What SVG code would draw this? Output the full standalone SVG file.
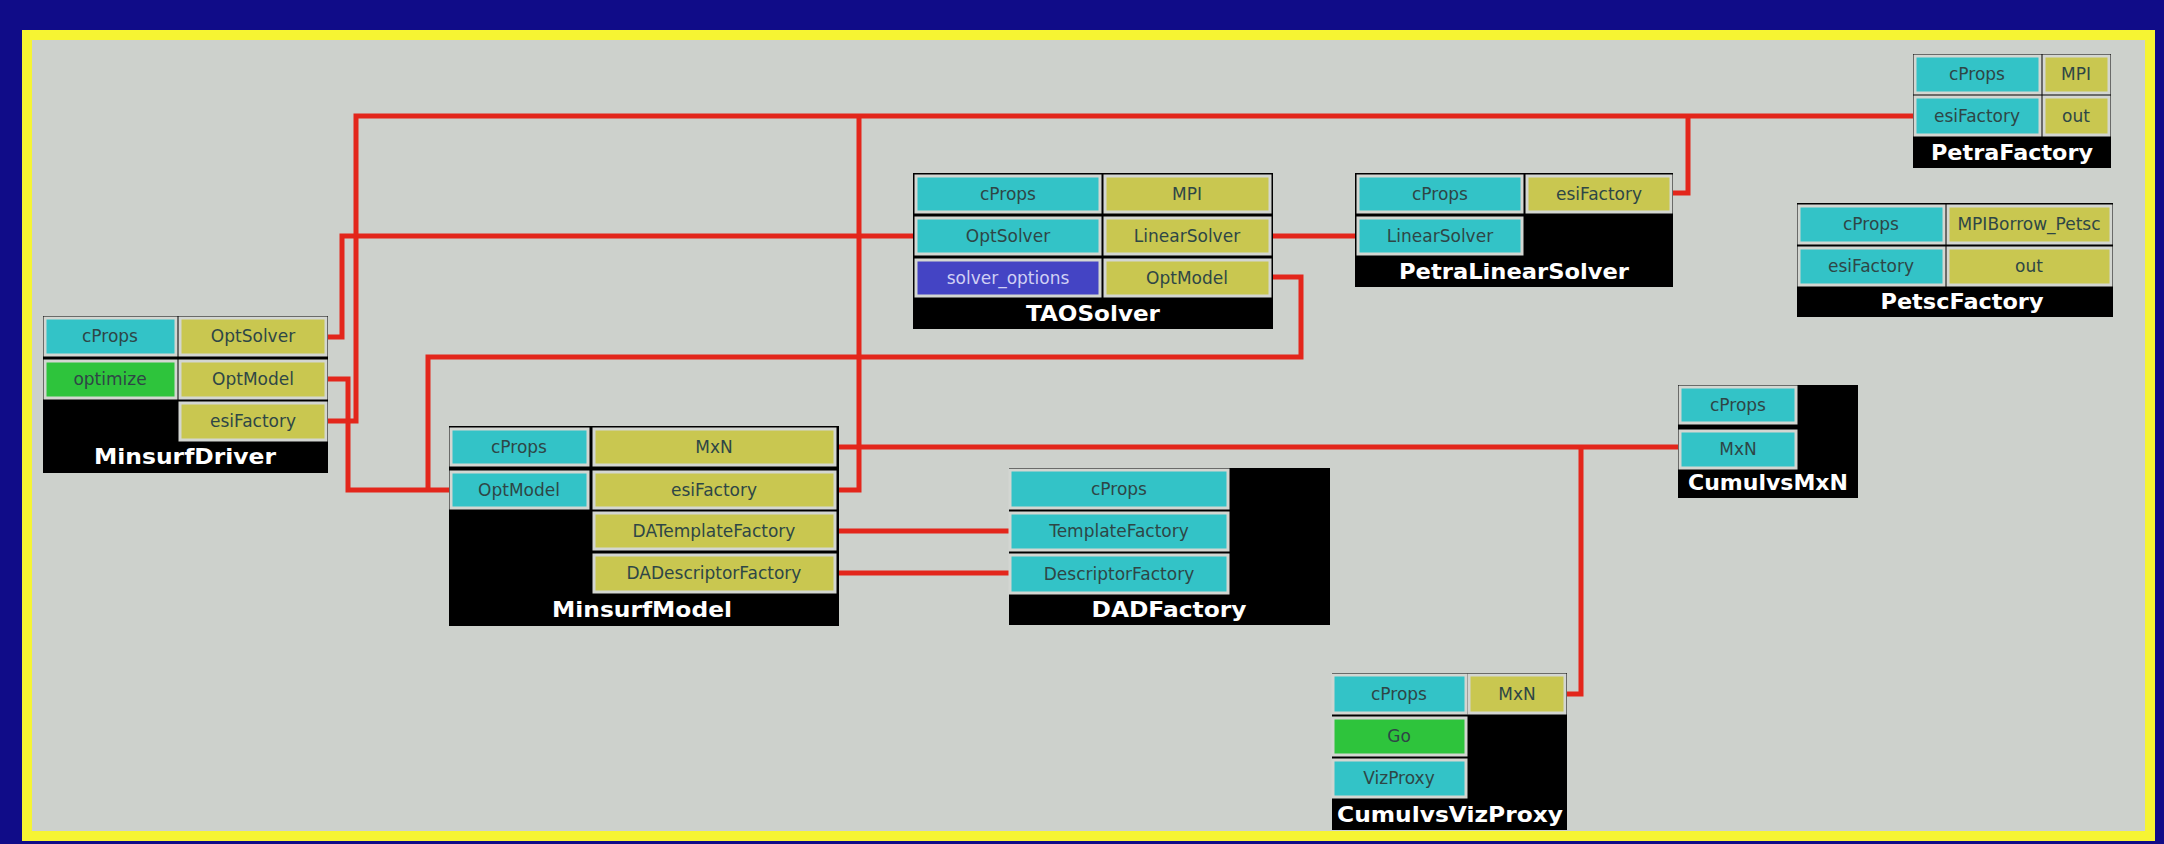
<svg xmlns="http://www.w3.org/2000/svg" width="2164" height="844" viewBox="0 0 2164 844">
<style>
.bg{fill:#100c88}
.fr{fill:#f6f433}
.cv{fill:#cdd1cc}
.body{fill:#000}
.cell{stroke:#d3d6d1;stroke-width:3}
.c{fill:#33c3c7}
.y{fill:#c9c750}
.g{fill:#2ec43c}
.b{fill:#4444c4}
.t{font-family:"DejaVu Sans","Liberation Sans",sans-serif;font-size:17px;fill:#2e4646;text-anchor:middle}
.tw{fill:#d0d0f4}
.h{font-family:"DejaVu Sans","Liberation Sans",sans-serif;font-size:21px;font-weight:bold;fill:#fff;text-anchor:middle}
.w{fill:none;stroke:#e3261b;stroke-width:5;stroke-linejoin:miter}
</style>
<rect class="bg" x="0" y="0" width="2164" height="844"/>
<rect class="fr" x="22" y="30" width="2133" height="811"/>
<rect class="cv" x="32" y="40" width="2113" height="791"/>

<g id="connectors">
<path class="w" d="M327,337 H342 V236 H913"/>
<path class="w" d="M327,379 H348 V490 H449"/>
<path class="w" d="M1273,277 H1301 V357 H428 V490"/>
<path class="w" d="M327,421 H356 V116 H1913"/>
<path class="w" d="M838,490 H859 V116"/>
<path class="w" d="M1673,193 H1688 V116"/>
<path class="w" d="M1273,236 H1355"/>
<path class="w" d="M838,447 H1678"/>
<path class="w" d="M1581,447 V694 H1567"/>
<path class="w" d="M838,531 H1009"/>
<path class="w" d="M838,573 H1009"/>
</g>

<g id="MinsurfDriver">
<rect class="body" x="43" y="316" width="285" height="157"/>
<rect class="cell c" x="45" y="318" width="131" height="37"/>
<rect class="cell y" x="180" y="318" width="146" height="37"/>
<rect class="cell g" x="45" y="361" width="131" height="37"/>
<rect class="cell y" x="180" y="361" width="146" height="37"/>
<rect class="cell y" x="180" y="403" width="146" height="37"/>
<text class="t" x="110" y="342">cProps</text>
<text class="t" x="253" y="342">OptSolver</text>
<text class="t" x="110" y="385">optimize</text>
<text class="t" x="253" y="385">OptModel</text>
<text class="t" x="253" y="427">esiFactory</text>
<text class="h" x="185" y="464" textLength="182" lengthAdjust="spacingAndGlyphs">MinsurfDriver</text>
</g>

<g id="MinsurfModel">
<rect class="body" x="449" y="426" width="390" height="200"/>
<rect class="cell c" x="451" y="429" width="137" height="36"/>
<rect class="cell y" x="594" y="429" width="241" height="36"/>
<rect class="cell c" x="451" y="472" width="137" height="36"/>
<rect class="cell y" x="594" y="472" width="241" height="36"/>
<rect class="cell y" x="594" y="513" width="241" height="36"/>
<rect class="cell y" x="594" y="555" width="241" height="37"/>
<text class="t" x="519" y="453">cProps</text>
<text class="t" x="714" y="453">MxN</text>
<text class="t" x="519" y="496">OptModel</text>
<text class="t" x="714" y="496">esiFactory</text>
<text class="t" x="714" y="537">DATemplateFactory</text>
<text class="t" x="714" y="579">DADescriptorFactory</text>
<text class="h" x="642" y="617" textLength="180" lengthAdjust="spacingAndGlyphs">MinsurfModel</text>
</g>

<g id="TAOSolver">
<rect class="body" x="913" y="173" width="360" height="156"/>
<rect class="cell c" x="916" y="176" width="184" height="36"/>
<rect class="cell y" x="1105" y="176" width="165" height="36"/>
<rect class="cell c" x="916" y="218" width="184" height="36"/>
<rect class="cell y" x="1105" y="218" width="165" height="36"/>
<rect class="cell b" x="916" y="260" width="184" height="36"/>
<rect class="cell y" x="1105" y="260" width="165" height="36"/>
<text class="t" x="1008" y="200">cProps</text>
<text class="t" x="1187" y="200">MPI</text>
<text class="t" x="1008" y="242">OptSolver</text>
<text class="t" x="1187" y="242">LinearSolver</text>
<text class="t tw" x="1008" y="284">solver_options</text>
<text class="t" x="1187" y="284">OptModel</text>
<text class="h" x="1093" y="321" textLength="134" lengthAdjust="spacingAndGlyphs">TAOSolver</text>
</g>

<g id="PetraLinearSolver">
<rect class="body" x="1355" y="173" width="318" height="114"/>
<rect class="cell c" x="1358" y="176" width="164" height="36"/>
<rect class="cell y" x="1527" y="176" width="144" height="36"/>
<rect class="cell c" x="1358" y="218" width="164" height="36"/>
<text class="t" x="1440" y="200">cProps</text>
<text class="t" x="1599" y="200">esiFactory</text>
<text class="t" x="1440" y="242">LinearSolver</text>
<text class="h" x="1514" y="279" textLength="230" lengthAdjust="spacingAndGlyphs">PetraLinearSolver</text>
</g>

<g id="PetraFactory">
<rect class="body" x="1913" y="54" width="198" height="114"/>
<rect class="cell c" x="1915" y="56" width="125" height="37"/>
<rect class="cell y" x="2044" y="56" width="65" height="37"/>
<rect class="cell c" x="1915" y="97" width="125" height="38"/>
<rect class="cell y" x="2044" y="97" width="65" height="38"/>
<text class="t" x="1977" y="80">cProps</text>
<text class="t" x="2076" y="80">MPI</text>
<text class="t" x="1977" y="122">esiFactory</text>
<text class="t" x="2076" y="122">out</text>
<text class="h" x="2012" y="160" textLength="162" lengthAdjust="spacingAndGlyphs">PetraFactory</text>
</g>

<g id="PetscFactory">
<rect class="body" x="1797" y="203" width="316" height="114"/>
<rect class="cell c" x="1799" y="206" width="145" height="37"/>
<rect class="cell y" x="1948" y="206" width="163" height="37"/>
<rect class="cell c" x="1799" y="248" width="145" height="37"/>
<rect class="cell y" x="1948" y="248" width="163" height="37"/>
<text class="t" x="1871" y="230">cProps</text>
<text class="t" x="2029" y="230" font-size="15">MPIBorrow_Petsc</text>
<text class="t" x="1871" y="272">esiFactory</text>
<text class="t" x="2029" y="272">out</text>
<text class="h" x="1962" y="309" textLength="163" lengthAdjust="spacingAndGlyphs">PetscFactory</text>
</g>

<g id="CumulvsMxN">
<rect class="body" x="1678" y="385" width="180" height="113"/>
<rect class="cell c" x="1680" y="387" width="116" height="36"/>
<rect class="cell c" x="1680" y="431" width="116" height="37"/>
<text class="t" x="1738" y="411">cProps</text>
<text class="t" x="1738" y="455">MxN</text>
<text class="h" x="1768" y="490" textLength="160" lengthAdjust="spacingAndGlyphs">CumulvsMxN</text>
</g>

<g id="DADFactory">
<rect class="body" x="1009" y="468" width="321" height="157"/>
<rect class="cell c" x="1010" y="470" width="218" height="38"/>
<rect class="cell c" x="1010" y="513" width="218" height="37"/>
<rect class="cell c" x="1010" y="555" width="218" height="38"/>
<text class="t" x="1119" y="495">cProps</text>
<text class="t" x="1119" y="537">TemplateFactory</text>
<text class="t" x="1119" y="580">DescriptorFactory</text>
<text class="h" x="1169" y="617" textLength="155" lengthAdjust="spacingAndGlyphs">DADFactory</text>
</g>

<g id="CumulvsVizProxy">
<rect class="body" x="1332" y="673" width="235" height="157"/>
<rect class="cell c" x="1333" y="675" width="133" height="38"/>
<rect class="cell y" x="1469" y="675" width="96" height="38"/>
<rect class="cell g" x="1333" y="718" width="133" height="37"/>
<rect class="cell c" x="1333" y="760" width="133" height="37"/>
<text class="t" x="1399" y="700">cProps</text>
<text class="t" x="1517" y="700">MxN</text>
<text class="t" x="1399" y="742">Go</text>
<text class="t" x="1399" y="784">VizProxy</text>
<text class="h" x="1450" y="822" textLength="226" lengthAdjust="spacingAndGlyphs">CumulvsVizProxy</text>
</g>
</svg>
